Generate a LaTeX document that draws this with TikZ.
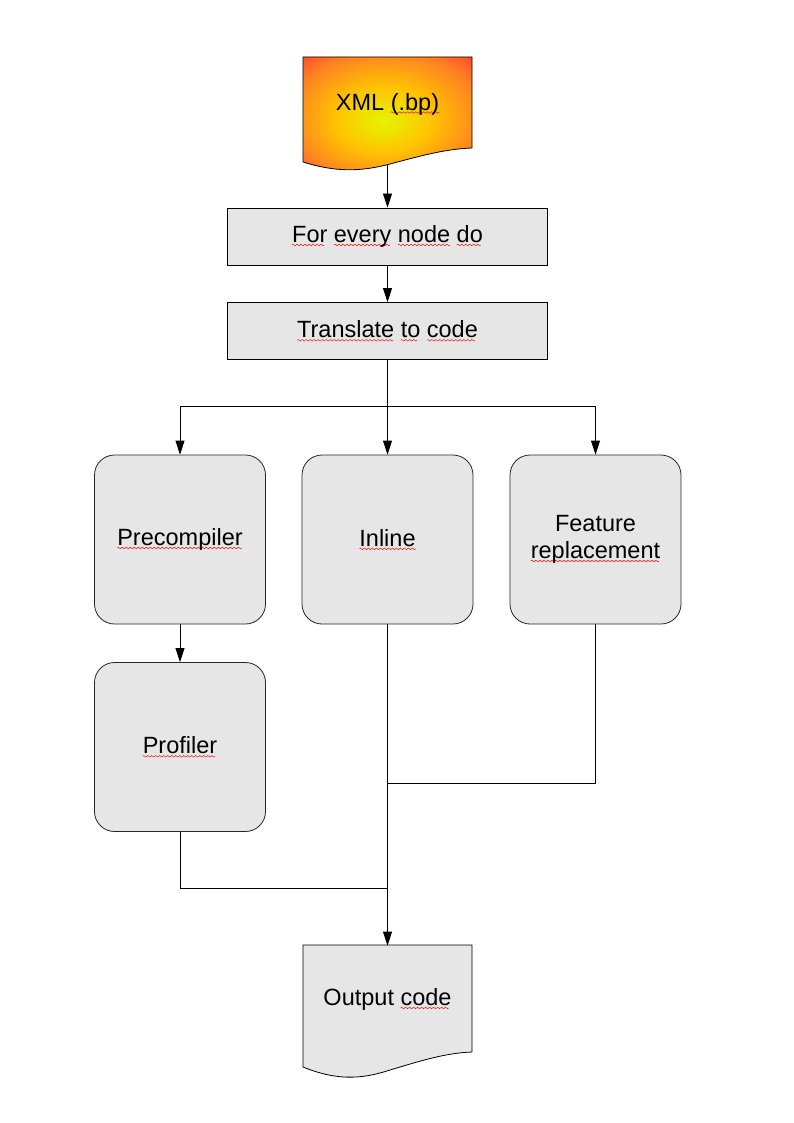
\documentclass[tikz,border=0pt]{standalone}
\usepackage{fontspec}
\setmainfont{Liberation Sans}
\usetikzlibrary{arrows.meta}

\definecolor{boxgray}{HTML}{E6E6E6}
\definecolor{glowyellow}{HTML}{E4F500}
\definecolor{glowamber}{HTML}{FFC400}
\definecolor{gloworange}{HTML}{FF8420}
\definecolor{glowdeep}{HTML}{FF4030}
\pgfdeclareradialshading{xmlglow}{\pgfpoint{-1.5bp}{-3bp}}{color(0bp)=(glowyellow); color(14bp)=(glowamber); color(28bp)=(gloworange); color(38bp)=(glowdeep); color(50bp)=(glowdeep)}
% red spell-check wave under a word
\newsavebox{\wavebox}
\sbox{\wavebox}{\begin{pgfpicture}
  \pgfpathrectangle{\pgfpoint{0pt}{-0.8pt}}{\pgfpoint{4pt}{1.6pt}}
  \pgfusepath{use as bounding box}
  \pgfpathmoveto{\pgfpoint{0pt}{0pt}}
  \pgfpathsine{\pgfpoint{1pt}{0.8pt}}
  \pgfpathcosine{\pgfpoint{1pt}{-0.8pt}}
  \pgfpathsine{\pgfpoint{1pt}{-0.8pt}}
  \pgfpathcosine{\pgfpoint{1pt}{0.8pt}}
  \pgfsetlinewidth{0.45pt}\pgfsetstrokecolor{red}
  \pgfusepath{stroke}
\end{pgfpicture}}
\newcommand{\spell}[1]{\setbox0\hbox{#1}\rlap{\lower3.2pt\hbox to\wd0{\leaders\copy\wavebox\hfill}}\box0\relax}

\begin{document}
\begin{tikzpicture}[x=1pt, y=-1pt, line width=0.8pt,
        font=\fontsize{23.5}{27}\selectfont,
        >={Triangle[length=14pt,width=9pt]}]
      \tikzstyle{plain} = [draw, fill=boxgray, minimum width=320pt, minimum height=57pt, inner sep=0pt]
      \tikzstyle{rounded} = [draw=black!85, fill=boxgray, rounded corners=20pt, minimum width=171pt, minimum height=169pt, inner sep=0pt, align=center]
      \tikzstyle{docpage} = [minimum width=169pt, inner sep=0pt]
      \useasboundingbox (0,0) rectangle (794,1123);
      % input and output documents
      \shadedraw[shading=xmlglow] (303,57) -- (472,57) -- (472,148)
        .. controls (445,149) and (420,156) .. (390,164)
        .. controls (360,172) and (335,172) .. (303,162) -- cycle;
      \filldraw[fill=boxgray] (303,945) -- (472,945) -- (472,1052)
        .. controls (445,1053) and (420,1061) .. (390,1070)
        .. controls (360,1080) and (335,1080) .. (303,1067) -- cycle;
      \node (XML) [docpage, minimum height=91pt] at (387.5,104) {XML \spell{(.bp)}};
      \coordinate (XMLwave) at (387.5,165);
      \node (output) [docpage, minimum height=107pt] at (387.5,999.5) {Output \spell{code}};
      % steps
      \node (forevery) [plain] at (387.5,236.5) {\spell{For} \spell{every} \spell{node} \spell{do}};
      \node (translate) [plain] at (387.5,331) {\spell{Translate} \spell{to} \spell{code}};
      \node (precompiler) [rounded] at (180,539.5) {\spell{Precompiler}};
      \node (inline) [rounded] at (387.5,539.5) {\spell{Inline}};
      \node (feature) [rounded] at (595.5,539.5) {Feature\\\spell{replacement}};
      \node (profiler) [rounded] at (180,747) {\spell{Profiler}};
      % connectors
      \coordinate (split) at (387.5,406);
      \coordinate (joinright) at (387.5,783);
      \coordinate (joinleft) at (387.5,888);
      \draw[->] (XMLwave) -- (forevery.north);
      \draw[->] (forevery) -- (translate);
      \draw (translate.south) -- (split);
      \draw[->] (split) -| (precompiler.north);
      \draw[->] (split) -- (inline.north);
      \draw[->] (split) -| (feature.north);
      \draw[->] (precompiler) -- (profiler);
      \draw[->] (inline.south) -- (output.north);
      \draw (feature.south) |- (joinright);
      \draw (profiler.south) |- (joinleft);
    \end{tikzpicture}
\end{document}
